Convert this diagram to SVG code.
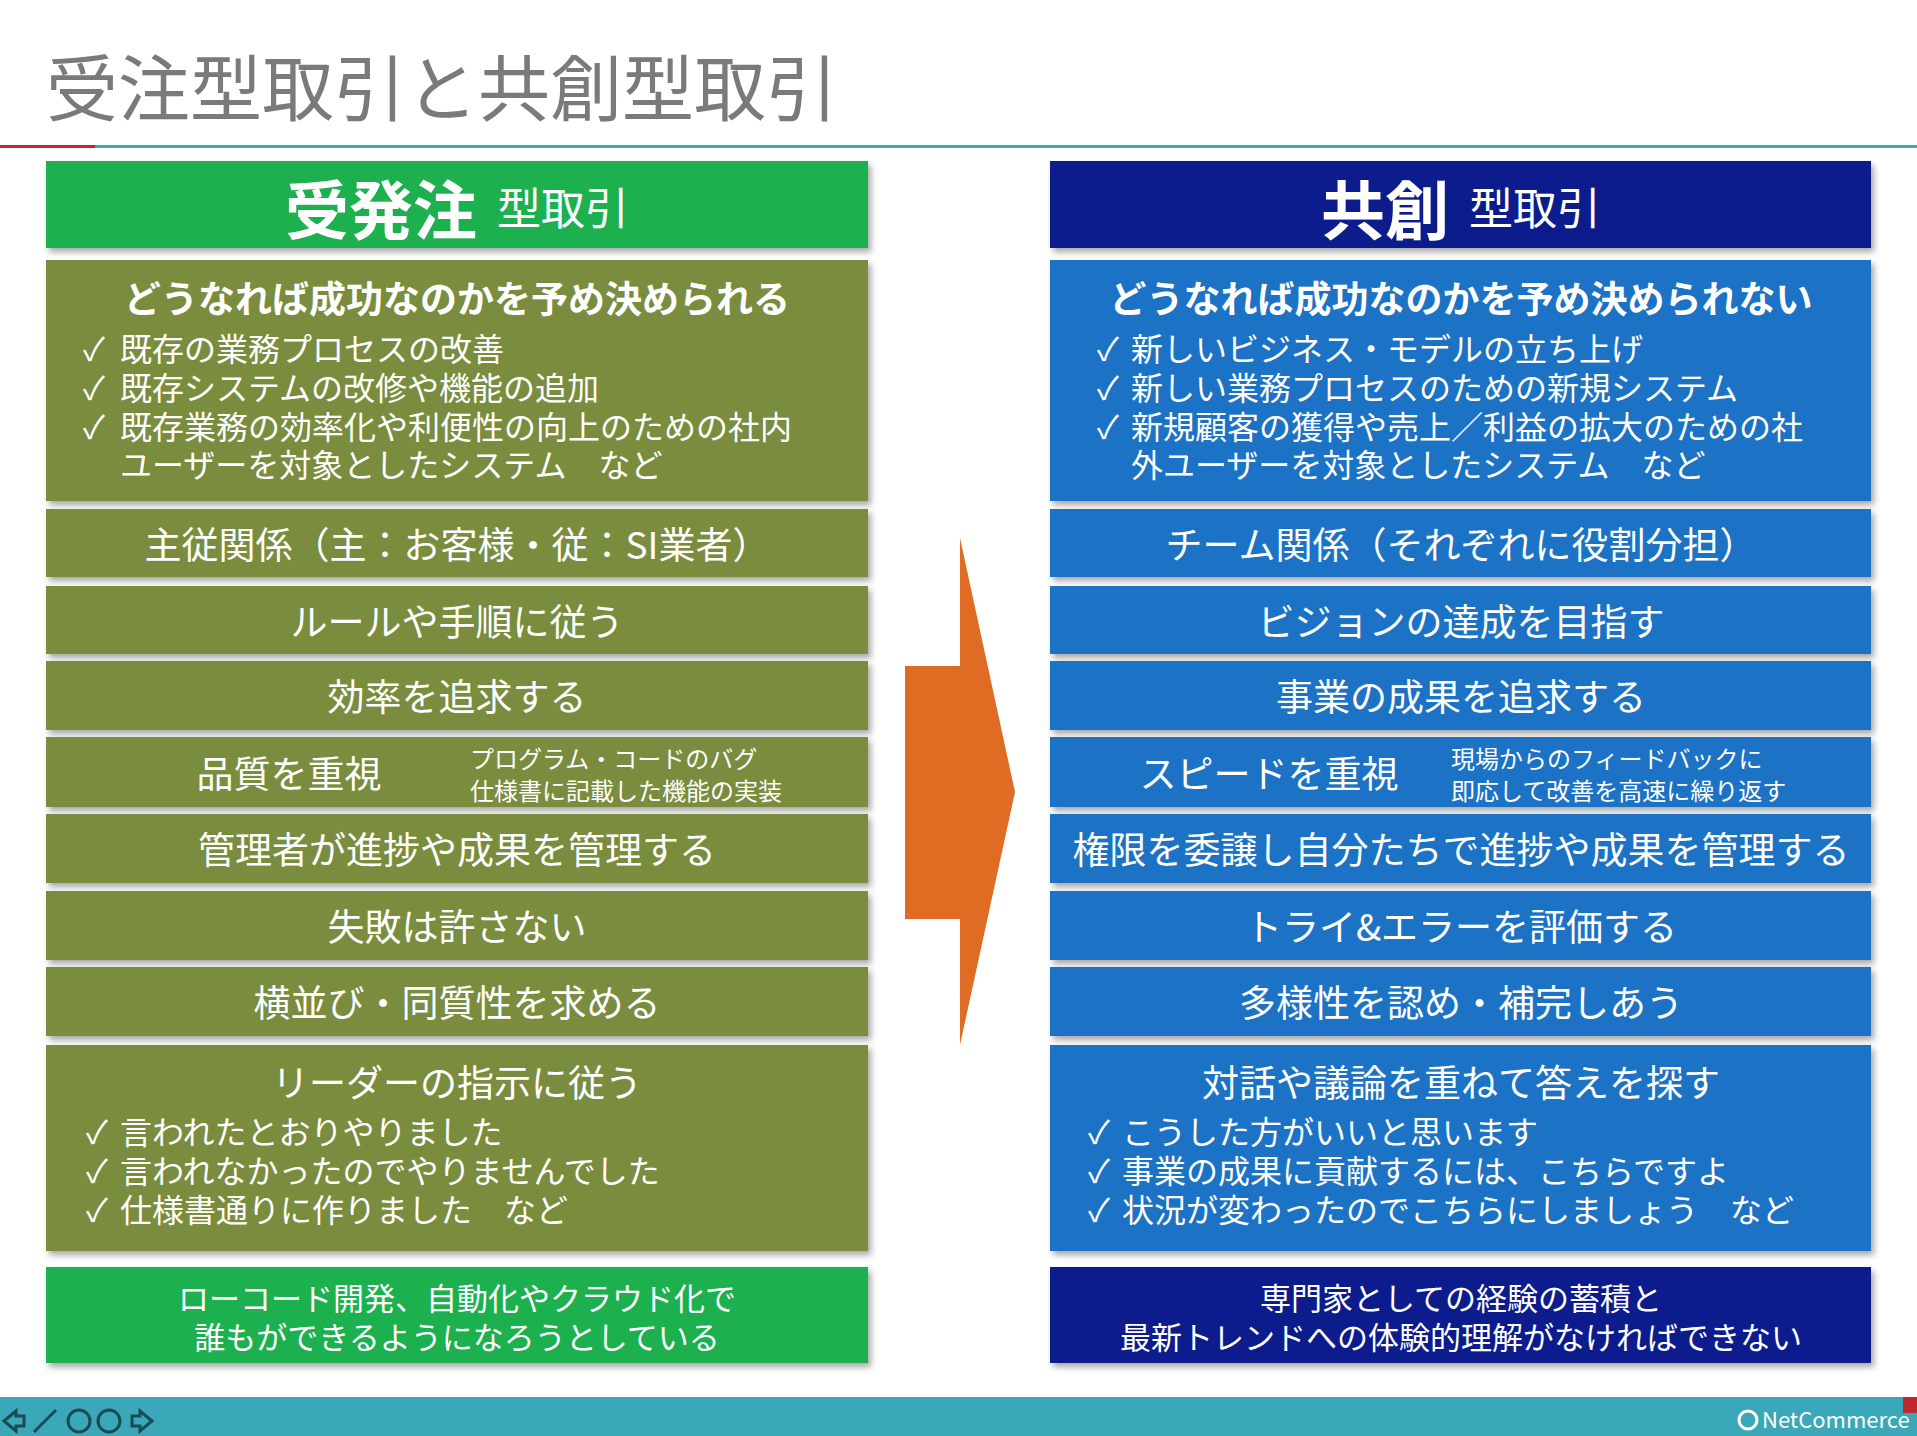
<svg xmlns="http://www.w3.org/2000/svg" width="1917" height="1436" viewBox="0 0 1917 1436">
<defs>
<filter id="sh" x="-5%" y="-5%" width="112%" height="120%"><feDropShadow dx="3" dy="4" stdDeviation="3" flood-color="#000" flood-opacity="0.35"/></filter>
<style>
text{font-family:"Noto Sans CJK JP","Noto Sans",sans-serif;fill:#fff}
.o{fill:#7a8c3e;filter:url(#sh)}
.b{fill:#1f72c4;filter:url(#sh)}
.r{font-size:37px;text-anchor:middle;dominant-baseline:central}
.t{font-size:37px;font-weight:bold;text-anchor:middle;dominant-baseline:central}
.l{font-size:32px;dominant-baseline:central}
.s{font-size:24px;dominant-baseline:central}
.f{font-size:31px;text-anchor:middle;dominant-baseline:central}
</style>
</defs>
<rect width="1917" height="1436" fill="#fff"/>
<text x="46" y="115" font-size="72" style="fill:#7a7a7a">受注型取引と共創型取引</text>
<rect x="0" y="145" width="95" height="3" fill="#c0272d"/>
<rect x="95" y="145" width="1822" height="3" fill="#3aa8b8"/>

<g id="left">
<rect x="46" y="161" width="822" height="87" fill="#1db04f" filter="url(#sh)"/>
<text x="457" y="206" text-anchor="middle" dominant-baseline="central"><tspan font-size="64" font-weight="bold">受発注</tspan><tspan font-size="44" dx="20">型取引</tspan></text>
<rect class="o" x="46" y="260" width="822" height="241"/>
<text class="t" x="457" y="297">どうなれば成功なのかを予め決められる</text>
<text class="l" x="83" y="347">✓</text><text class="l" x="120" y="347">既存の業務プロセスの改善</text>
<text class="l" x="83" y="386">✓</text><text class="l" x="120" y="386">既存システムの改修や機能の追加</text>
<text class="l" x="83" y="425">✓</text><text class="l" x="120" y="425">既存業務の効率化や利便性の向上のための社内</text>
<text class="l" x="120" y="463">ユーザーを対象としたシステム　など</text>
<rect class="o" x="46" y="509" width="822" height="68"/><text class="r" x="457" y="543">主従関係（主：お客様・従：SI業者）</text>
<rect class="o" x="46" y="586" width="822" height="68"/><text class="r" x="457" y="620">ルールや手順に従う</text>
<rect class="o" x="46" y="661" width="822" height="69"/><text class="r" x="457" y="695">効率を追求する</text>
<rect class="o" x="46" y="737" width="822" height="70"/><text class="r" x="289" y="772">品質を重視</text>
<text class="s" x="470" y="757">プログラム・コードのバグ</text><text class="s" x="470" y="789">仕様書に記載した機能の実装</text>
<rect class="o" x="46" y="814" width="822" height="69"/><text class="r" x="457" y="848">管理者が進捗や成果を管理する</text>
<rect class="o" x="46" y="891" width="822" height="69"/><text class="r" x="457" y="925">失敗は許さない</text>
<rect class="o" x="46" y="967" width="822" height="69"/><text class="r" x="457" y="1001">横並び・同質性を求める</text>
<rect class="o" x="46" y="1045" width="822" height="206"/><text class="r" x="457" y="1081">リーダーの指示に従う</text>
<text class="l" x="86" y="1130">✓</text><text class="l" x="120" y="1130">言われたとおりやりました</text>
<text class="l" x="86" y="1169">✓</text><text class="l" x="120" y="1169">言われなかったのでやりませんでした</text>
<text class="l" x="86" y="1208">✓</text><text class="l" x="120" y="1208">仕様書通りに作りました　など</text>
<rect x="46" y="1267" width="822" height="96" fill="#1db04f" filter="url(#sh)"/>
<text class="f" x="457" y="1296">ローコード開発、自動化やクラウド化で</text>
<text class="f" x="457" y="1335">誰もができるようになろうとしている</text>
</g>

<g id="arrow"><polygon points="905,666 960,666 960,538 1015,792 960,1045 960,919 905,919" fill="#e06c23"/></g>

<g id="right">
<rect x="1050" y="161" width="821" height="87" fill="#0d1a8c" filter="url(#sh)"/>
<text x="1461" y="206" text-anchor="middle" dominant-baseline="central"><tspan font-size="64" font-weight="bold">共創</tspan><tspan font-size="44" dx="20">型取引</tspan></text>
<rect class="b" x="1050" y="260" width="821" height="241"/>
<text class="t" x="1461" y="297">どうなれば成功なのかを予め決められない</text>
<text class="l" x="1097" y="347">✓</text><text class="l" x="1131" y="347">新しいビジネス・モデルの立ち上げ</text>
<text class="l" x="1097" y="386">✓</text><text class="l" x="1131" y="386">新しい業務プロセスのための新規システム</text>
<text class="l" x="1097" y="425">✓</text><text class="l" x="1131" y="425">新規顧客の獲得や売上／利益の拡大のための社</text>
<text class="l" x="1131" y="463">外ユーザーを対象としたシステム　など</text>
<rect class="b" x="1050" y="509" width="821" height="68"/><text class="r" x="1461" y="543">チーム関係（それぞれに役割分担）</text>
<rect class="b" x="1050" y="586" width="821" height="68"/><text class="r" x="1461" y="620">ビジョンの達成を目指す</text>
<rect class="b" x="1050" y="661" width="821" height="69"/><text class="r" x="1461" y="695">事業の成果を追求する</text>
<rect class="b" x="1050" y="737" width="821" height="70"/><text class="r" x="1269" y="772">スピードを重視</text>
<text class="s" x="1451" y="757">現場からのフィードバックに</text><text class="s" x="1451" y="789">即応して改善を高速に繰り返す</text>
<rect class="b" x="1050" y="814" width="821" height="69"/><text class="r" x="1461" y="848">権限を委譲し自分たちで進捗や成果を管理する</text>
<rect class="b" x="1050" y="891" width="821" height="69"/><text class="r" x="1461" y="925">トライ&amp;エラーを評価する</text>
<rect class="b" x="1050" y="967" width="821" height="69"/><text class="r" x="1461" y="1001">多様性を認め・補完しあう</text>
<rect class="b" x="1050" y="1045" width="821" height="206"/><text class="r" x="1461" y="1081">対話や議論を重ねて答えを探す</text>
<text class="l" x="1088" y="1130">✓</text><text class="l" x="1122" y="1130">こうした方がいいと思います</text>
<text class="l" x="1088" y="1169">✓</text><text class="l" x="1122" y="1169">事業の成果に貢献するには、こちらですよ</text>
<text class="l" x="1088" y="1208">✓</text><text class="l" x="1122" y="1208">状況が変わったのでこちらにしましょう　など</text>
<rect x="1050" y="1267" width="821" height="96" fill="#0d1a8c" filter="url(#sh)"/>
<text class="f" x="1461" y="1296">専門家としての経験の蓄積と</text>
<text class="f" x="1461" y="1335">最新トレンドへの体験的理解がなければできない</text>
</g>

<g id="footer">
<rect x="0" y="1397" width="1917" height="39" fill="#3aa8b8"/>
<rect x="1903" y="1397" width="14" height="16" fill="#c0272d"/>
<text x="1762" y="1428" font-size="22" font-family="Liberation Sans,sans-serif">NetCommerce</text>
<circle cx="1748" cy="1420" r="9" fill="none" stroke="#fff" stroke-width="3"/>
<g fill="none" stroke="#1a4a55" stroke-width="3">
<polygon points="4,1421 16,1411 16,1416 24,1416 24,1426 16,1426 16,1431"/>
<line x1="34" y1="1432" x2="56" y2="1410"/>
<circle cx="79" cy="1421" r="11"/>
<circle cx="109" cy="1421" r="11"/>
<polygon points="152,1421 140,1411 140,1416 132,1416 132,1426 140,1426 140,1431"/>
</g>
</g>
</svg>
